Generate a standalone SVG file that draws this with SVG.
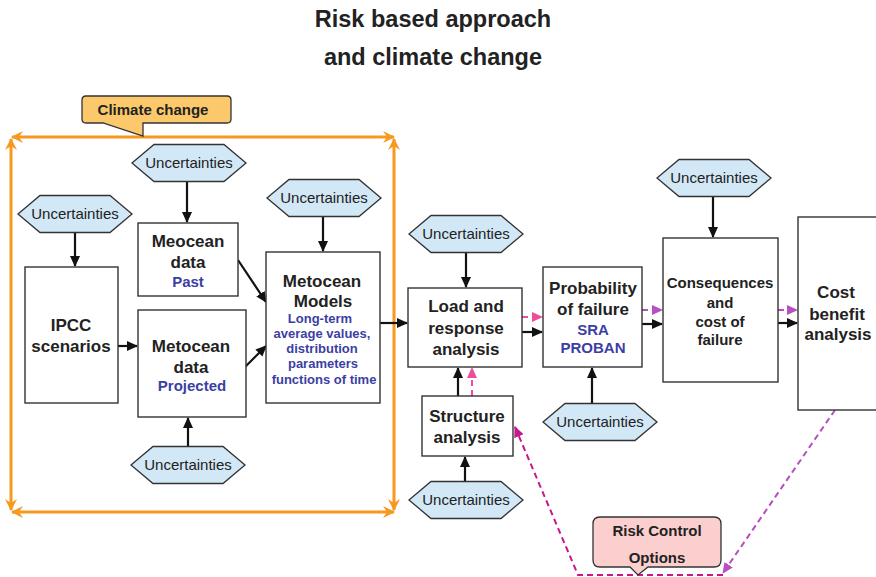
<svg xmlns="http://www.w3.org/2000/svg" width="876" height="577" viewBox="0 0 876 577">
<style>
.t{font-family:"Liberation Sans",Arial,sans-serif;font-weight:bold;fill:#222;text-anchor:middle}
.b{font-family:"Liberation Sans",Arial,sans-serif;font-weight:bold;fill:#3B3FA3;text-anchor:middle}
.u{font-family:"Liberation Sans",Arial,sans-serif;font-size:15px;fill:#222;text-anchor:middle}
.box{fill:#fff;stroke:#333;stroke-width:1.4}
.hex{fill:#D2E8F6;stroke:#333;stroke-width:1.3}
.c{fill:none;stroke:#111;stroke-width:2.2}
.or{fill:none;stroke:#F7981F;stroke-width:3}
.pk{fill:none;stroke:#EE4C9C;stroke-width:2;stroke-dasharray:6,4}
.pu{fill:none;stroke:#B84FC0;stroke-width:2;stroke-dasharray:6,4}
.mg{fill:none;stroke:#C8178C;stroke-width:2;stroke-dasharray:6,4}
</style>
<defs>
<polygon id="hx" points="-57,0 -35,-18.5 35,-18.5 57,0 35,18.5 -35,18.5"/>
<marker id="ab" markerUnits="userSpaceOnUse" markerWidth="11" markerHeight="10" refX="10" refY="5" orient="auto"><path d="M0,0 L11,5 L0,10 z" fill="#111"/></marker>
<marker id="ao" markerUnits="userSpaceOnUse" markerWidth="13" markerHeight="12" refX="11" refY="6" orient="auto-start-reverse"><path d="M0,0 L12,6 L0,12 L4,6 z" fill="#F7981F"/></marker>
<marker id="ap" markerUnits="userSpaceOnUse" markerWidth="11" markerHeight="10" refX="10" refY="5" orient="auto"><path d="M0,0 L11,5 L0,10 z" fill="#EE4C9C"/></marker>
<marker id="au" markerUnits="userSpaceOnUse" markerWidth="11" markerHeight="10" refX="10" refY="5" orient="auto"><path d="M0,0 L11,5 L0,10 z" fill="#B84FC0"/></marker>
<marker id="am" markerUnits="userSpaceOnUse" markerWidth="11" markerHeight="10" refX="10" refY="5" orient="auto"><path d="M0,0 L11,5 L0,10 z" fill="#C8178C"/></marker>
</defs>
<rect width="876" height="577" fill="#fff"/>

<g id="title">
<text class="t" x="433" y="27" font-size="23.5">Risk based approach</text>
<text class="t" x="433" y="65" font-size="23.5">and climate change</text>
</g>

<g id="climate-frame">
<line class="or" x1="12" y1="137" x2="394" y2="137" marker-start="url(#ao)" marker-end="url(#ao)"/>
<line class="or" x1="12" y1="512" x2="394" y2="512" marker-start="url(#ao)" marker-end="url(#ao)"/>
<line class="or" x1="11" y1="139" x2="11" y2="510" marker-start="url(#ao)" marker-end="url(#ao)"/>
<line class="or" x1="394" y1="139" x2="394" y2="510" marker-start="url(#ao)" marker-end="url(#ao)"/>
</g>

<g id="climate-change">
<path d="M86,96 L227,96 Q231,96 231,100 L231,119 Q231,123 227,123 L143,123 L143,136 L103,123 L86,123 Q82,123 82,119 L82,100 Q82,96 86,96 Z" fill="#FBC96C" stroke="#333" stroke-width="1.3"/>
<text class="t" x="153" y="115" font-size="15">Climate change</text>
</g>

<g id="connectors">
<line class="c" x1="187" y1="182" x2="187" y2="222" marker-end="url(#ab)"/>
<line class="c" x1="75" y1="233" x2="75" y2="266" marker-end="url(#ab)"/>
<line class="c" x1="323" y1="217" x2="323" y2="251" marker-end="url(#ab)"/>
<line class="c" x1="188" y1="446" x2="188" y2="418" marker-end="url(#ab)"/>
<line class="c" x1="118" y1="346" x2="137" y2="346" marker-end="url(#ab)"/>
<line class="c" x1="238" y1="260" x2="266" y2="302" marker-end="url(#ab)"/>
<line class="c" x1="245" y1="367" x2="266" y2="346" marker-end="url(#ab)"/>
<line class="c" x1="380" y1="323" x2="407" y2="323" marker-end="url(#ab)"/>
<line class="c" x1="466" y1="252" x2="466" y2="287" marker-end="url(#ab)"/>
<line class="c" x1="522" y1="332" x2="542" y2="332" marker-end="url(#ab)"/>
<line class="pk" x1="522" y1="317" x2="542" y2="317" marker-end="url(#ap)"/>
<line class="c" x1="642" y1="324" x2="662" y2="324" marker-end="url(#ab)"/>
<line class="pu" x1="642" y1="310" x2="662" y2="310" marker-end="url(#au)"/>
<line class="c" x1="778" y1="323" x2="797" y2="323" marker-end="url(#ab)"/>
<line class="pu" x1="778" y1="310" x2="797" y2="310" marker-end="url(#au)"/>
<line class="c" x1="713" y1="197" x2="713" y2="237" marker-end="url(#ab)"/>
<line class="c" x1="592" y1="403" x2="592" y2="368" marker-end="url(#ab)"/>
<line class="c" x1="458" y1="396" x2="458" y2="368" marker-end="url(#ab)"/>
<line class="pk" x1="472" y1="396" x2="472" y2="368" marker-end="url(#ap)"/>
<line class="c" x1="465" y1="481" x2="465" y2="457" marker-end="url(#ab)"/>
<polyline class="mg" points="723,575 578,575 515,427" marker-end="url(#am)"/>
<line class="pu" x1="835" y1="410" x2="723" y2="573" marker-end="url(#au)"/>
</g>

<g id="unc-meocean"><use href="#hx" class="hex" x="189" y="163"/><text class="u" x="189" y="168">Uncertainties</text></g>
<g id="unc-ipcc"><use href="#hx" class="hex" x="75" y="214"/><text class="u" x="75" y="219">Uncertainties</text></g>
<g id="unc-models"><use href="#hx" class="hex" x="324" y="198"/><text class="u" x="324" y="203">Uncertainties</text></g>
<g id="unc-projected"><use href="#hx" class="hex" x="188" y="465"/><text class="u" x="188" y="470">Uncertainties</text></g>
<g id="unc-load"><use href="#hx" class="hex" x="466" y="234"/><text class="u" x="466" y="239">Uncertainties</text></g>
<g id="unc-prob"><use href="#hx" class="hex" x="600" y="422"/><text class="u" x="600" y="427">Uncertainties</text></g>
<g id="unc-structure"><use href="#hx" class="hex" x="466" y="500"/><text class="u" x="466" y="505">Uncertainties</text></g>
<g id="unc-cons"><use href="#hx" class="hex" x="714" y="178"/><text class="u" x="714" y="183">Uncertainties</text></g>

<g id="ipcc">
<rect class="box" x="25" y="267" width="93" height="136"/>
<text class="t" x="71" y="331" font-size="17">IPCC</text>
<text class="t" x="71" y="352" font-size="17">scenarios</text>
</g>

<g id="meocean-past">
<rect class="box" x="138" y="223" width="100" height="73"/>
<text class="t" x="188" y="247" font-size="17">Meocean</text>
<text class="t" x="188" y="268" font-size="17">data</text>
<text class="b" x="188" y="287" font-size="15">Past</text>
</g>

<g id="metocean-projected">
<rect class="box" x="138" y="310" width="108" height="107"/>
<text class="t" x="191" y="352" font-size="17">Metocean</text>
<text class="t" x="191" y="373" font-size="17">data</text>
<text class="b" x="192" y="391" font-size="15">Projected</text>
</g>

<g id="metocean-models">
<rect class="box" x="266" y="252" width="114" height="151"/>
<text class="t" x="322" y="287" font-size="17">Metocean</text>
<text class="t" x="323" y="307" font-size="17">Models</text>
<text class="b" x="320" y="323" font-size="13">Long-term</text>
<text class="b" x="322" y="338" font-size="13">average values,</text>
<text class="b" x="322" y="353" font-size="13">distribution</text>
<text class="b" x="323" y="368" font-size="13">parameters</text>
<text class="b" x="324" y="384" font-size="13">functions of time</text>
</g>

<g id="load-response">
<rect class="box" x="408" y="288" width="114" height="79"/>
<text class="t" x="466" y="312" font-size="17">Load and</text>
<text class="t" x="466" y="334" font-size="17">response</text>
<text class="t" x="466" y="355" font-size="17">analysis</text>
</g>

<g id="structure">
<rect class="box" x="422" y="396" width="91" height="60"/>
<text class="t" x="467" y="422" font-size="17">Structure</text>
<text class="t" x="467" y="443" font-size="17">analysis</text>
</g>

<g id="probability">
<rect class="box" x="543" y="267" width="99" height="100"/>
<text class="t" x="593" y="294" font-size="17">Probability</text>
<text class="t" x="593" y="315" font-size="17">of failure</text>
<text class="b" x="593" y="335" font-size="15">SRA</text>
<text class="b" x="593" y="353" font-size="15">PROBAN</text>
</g>

<g id="consequences">
<rect class="box" x="663" y="238" width="115" height="144"/>
<text class="t" x="720" y="288" font-size="15">Consequences</text>
<text class="t" x="720" y="308" font-size="15">and</text>
<text class="t" x="720" y="327" font-size="15">cost of</text>
<text class="t" x="720" y="345" font-size="15">failure</text>
</g>

<g id="cost-benefit">
<rect class="box" x="798" y="217" width="90" height="193"/>
<text class="t" x="836" y="298" font-size="17">Cost</text>
<text class="t" x="837" y="320" font-size="17">benefit</text>
<text class="t" x="838" y="340" font-size="17">analysis</text>
</g>

<g id="risk-control">
<path d="M600,517 L714,517 Q721,517 721,524 L721,560 Q721,567 714,567 L648,567 L638,575 L630,567 L600,567 Q593,567 593,560 L593,524 Q593,517 600,517 Z" fill="#FCCFCF" stroke="#333" stroke-width="1.3"/>
<text class="t" x="657" y="536" font-size="15">Risk Control</text>
<text class="t" x="657" y="563" font-size="15">Options</text>
</g>
</svg>
